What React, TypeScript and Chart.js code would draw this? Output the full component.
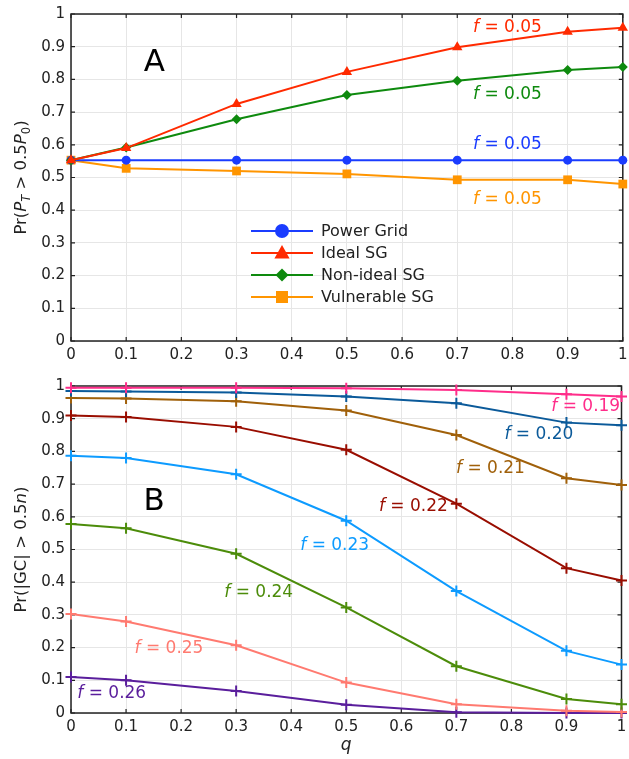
import React, { useEffect, useRef } from "react";
import { Chart, registerables } from "chart.js";

Chart.register(...registerables);

const qValues = [0, 0.1, 0.3, 0.5, 0.7, 0.9, 1];

// Panel A
const powerGrid = [0.553, 0.553, 0.553, 0.553, 0.553, 0.553, 0.553];
const idealSG = [0.553, 0.59, 0.725, 0.823, 0.898, 0.946, 0.958];
const nonIdealSG = [0.553, 0.592, 0.678, 0.752, 0.796, 0.829, 0.838];
const vulnerableSG = [0.553, 0.528, 0.52, 0.511, 0.493, 0.493, 0.48];

// Panel B
const f019 = [0.995, 0.995, 0.995, 0.993, 0.988, 0.975, 0.968];
const f020 = [0.985, 0.983, 0.98, 0.968, 0.947, 0.888, 0.88];
const f021 = [0.963, 0.962, 0.953, 0.925, 0.85, 0.718, 0.697];
const f022 = [0.91, 0.905, 0.875, 0.805, 0.64, 0.443, 0.405];
const f023 = [0.787, 0.78, 0.73, 0.588, 0.373, 0.19, 0.148];
const f024 = [0.578, 0.565, 0.487, 0.323, 0.143, 0.043, 0.027];
const f025 = [0.303, 0.28, 0.207, 0.093, 0.027, 0.007, 0.003];
const f026 = [0.11, 0.1, 0.067, 0.025, 0.002, 0.0, 0.0];

const seriesA = [
  { label: "Power Grid", data: powerGrid, color: "#1a3cff", style: "circle", r: 4.5, lr: 7, order: 2 },
  { label: "Ideal SG", data: idealSG, color: "#ff2a00", style: "triangle", r: 6, lr: 8, order: 0 },
  { label: "Non-ideal SG", data: nonIdealSG, color: "#0e8a0e", style: "rectRot", r: 5, lr: 6.5, order: 1 },
  { label: "Vulnerable SG", data: vulnerableSG, color: "#ff9500", style: "rect", r: 6.2, lr: 8, order: 3 },
];

const seriesB = [
  { f: "0.19", data: f019, color: "#ff2d8a", lx: 0.935, ly: 0.936 },
  { f: "0.20", data: f020, color: "#0b5a9a", lx: 0.85, ly: 0.85 },
  { f: "0.21", data: f021, color: "#a0600a", lx: 0.762, ly: 0.746 },
  { f: "0.22", data: f022, color: "#990d00", lx: 0.622, ly: 0.63 },
  { f: "0.23", data: f023, color: "#0d9bff", lx: 0.479, ly: 0.511 },
  { f: "0.24", data: f024, color: "#4c8c0a", lx: 0.341, ly: 0.367 },
  { f: "0.25", data: f025, color: "#ff7a70", lx: 0.178, ly: 0.196 },
  { f: "0.26", data: f026, color: "#5a1e9c", lx: 0.074, ly: 0.058 },
];

const labelsA = [
  { text: "0.05", color: "#ff2a00", x: 0.791, y: 0.957 },
  { text: "0.05", color: "#0e8a0e", x: 0.791, y: 0.755 },
  { text: "0.05", color: "#1a3cff", x: 0.791, y: 0.602 },
  { text: "0.05", color: "#ff9500", x: 0.791, y: 0.434 },
];

const FONT = "'DejaVu Sans', sans-serif";

type Seg = { t: string; i?: boolean; sub?: boolean };

function drawRich(ctx: CanvasRenderingContext2D, segs: Seg[], x: number, y: number, size: number, color: string, rotate = 0) {
  ctx.save();
  ctx.translate(x, y);
  if (rotate) ctx.rotate(rotate);
  ctx.fillStyle = color;
  ctx.textBaseline = "middle";
  ctx.textAlign = "left";
  const fontOf = (s: Seg) => `${s.i ? "italic " : ""}${s.sub ? size * 0.7 : size}px ${FONT}`;
  let total = 0;
  const widths = segs.map((s) => {
    ctx.font = fontOf(s);
    const w = ctx.measureText(s.t).width;
    total += w;
    return w;
  });
  let cx = -total / 2;
  segs.forEach((s, k) => {
    ctx.font = fontOf(s);
    ctx.fillText(s.t, cx, s.sub ? size * 0.3 : 0);
    cx += widths[k];
  });
  ctx.restore();
}

function drawMarker(ctx: CanvasRenderingContext2D, style: string, x: number, y: number, r: number, color: string) {
  ctx.save();
  ctx.fillStyle = color;
  ctx.beginPath();
  if (style === "circle") {
    ctx.arc(x, y, r, 0, Math.PI * 2);
  } else if (style === "triangle") {
    ctx.moveTo(x, y - r);
    ctx.lineTo(x + r * 0.95, y + r * 0.7);
    ctx.lineTo(x - r * 0.95, y + r * 0.7);
    ctx.closePath();
  } else if (style === "rectRot") {
    ctx.moveTo(x, y - r);
    ctx.lineTo(x + r, y);
    ctx.lineTo(x, y + r);
    ctx.lineTo(x - r, y);
    ctx.closePath();
  } else {
    ctx.rect(x - r * 0.75, y - r * 0.75, r * 1.5, r * 1.5);
  }
  ctx.fill();
  ctx.restore();
}

const framePlugin = {
  id: "frame",
  beforeDatasetsDraw(chart: any) {
    const { ctx, chartArea: a, scales } = chart;
    ctx.save();
    ctx.strokeStyle = "#222";
    ctx.lineWidth = 1.5;
    ctx.strokeRect(a.left, a.top, a.right - a.left, a.bottom - a.top);
    ctx.lineWidth = 1.2;
    const tl = 4;
    ctx.beginPath();
    for (let k = 0; k <= 10; k++) {
      const v = k / 10;
      const px = scales.x.getPixelForValue(v);
      ctx.moveTo(px, a.top);
      ctx.lineTo(px, a.top + tl);
      ctx.moveTo(px, a.bottom);
      ctx.lineTo(px, a.bottom - tl);
      const py = scales.y.getPixelForValue(v);
      ctx.moveTo(a.left, py);
      ctx.lineTo(a.left + tl, py);
      ctx.moveTo(a.right, py);
      ctx.lineTo(a.right - tl, py);
    }
    ctx.stroke();
    ctx.restore();
  },
};

function fixAxisX(scale: any, h: number) {
  scale.height = h;
  scale.paddingLeft = 0;
  scale.paddingRight = 0;
  scale.paddingTop = 0;
  scale.paddingBottom = 0;
}
function fixAxisY(scale: any, w: number) {
  scale.width = w;
  scale.paddingLeft = 0;
  scale.paddingRight = 0;
  scale.paddingTop = 0;
  scale.paddingBottom = 0;
}

function baseScales(xHeight: number) {
  const tickFmt = (v: any) => {
    const n = Math.round(Number(v) * 10) / 10;
    return n.toString();
  };
  return {
    x: {
      type: "linear",
      min: 0,
      max: 1,
      ticks: { stepSize: 0.1, callback: tickFmt, font: { family: FONT, size: 15 }, color: "#222", padding: 5, maxRotation: 0, autoSkip: false },
      grid: { color: "#e6e6e6", lineWidth: 1, drawTicks: false },
      border: { display: false },
      afterFit: (s: any) => fixAxisX(s, xHeight),
    },
    y: {
      type: "linear",
      min: 0,
      max: 1,
      ticks: { stepSize: 0.1, callback: tickFmt, font: { family: FONT, size: 15 }, color: "#222", padding: 6, autoSkip: false },
      grid: { color: "#e6e6e6", lineWidth: 1, drawTicks: false },
      border: { display: false },
      afterFit: (s: any) => fixAxisY(s, 71),
    },
  };
}

const W = 629;
const H1 = 372;
const H2 = 387;

export default function App() {
  const c1 = useRef<HTMLCanvasElement>(null);
  const c2 = useRef<HTMLCanvasElement>(null);

  useEffect(() => {
    const annotA = {
      id: "annotA",
      afterDatasetsDraw(chart: any) {
        const { ctx, scales } = chart;
        labelsA.forEach((l) => {
          drawRich(ctx, [{ t: "f", i: true }, { t: " = " + l.text }], scales.x.getPixelForValue(l.x), scales.y.getPixelForValue(l.y), 17, l.color);
        });
        ctx.save();
        ctx.font = `31px ${FONT}`;
        ctx.fillStyle = "#000";
        ctx.textAlign = "center";
        ctx.textBaseline = "middle";
        ctx.fillText("A", scales.x.getPixelForValue(0.151), scales.y.getPixelForValue(0.85));
        ctx.restore();
        // y title
        drawRich(ctx, [{ t: "Pr(" }, { t: "P", i: true }, { t: "T", i: true, sub: true }, { t: " > 0.5" }, { t: "P", i: true }, { t: "0", sub: true }, { t: ")" }], 22, (chart.chartArea.top + chart.chartArea.bottom) / 2, 16.5, "#222", -Math.PI / 2);
        // legend
        const rows = [231, 253, 275, 297];
        seriesA.forEach((s, k) => {
          const y = rows[k];
          ctx.save();
          ctx.strokeStyle = s.color;
          ctx.lineWidth = 2;
          ctx.beginPath();
          ctx.moveTo(251, y);
          ctx.lineTo(313, y);
          ctx.stroke();
          ctx.restore();
          drawMarker(ctx, s.style, 282, y, s.lr, s.color);
          ctx.save();
          ctx.font = `16px ${FONT}`;
          ctx.fillStyle = "#222";
          ctx.textBaseline = "middle";
          ctx.fillText(s.label, 321, y + 1);
          ctx.restore();
        });
      },
    };

    const chart1 = new Chart(c1.current!, {
      type: "line",
      data: {
        datasets: seriesA.map((s) => ({
          label: s.label,
          data: qValues.map((q, k) => ({ x: q, y: s.data[k] })),
          borderColor: s.color,
          backgroundColor: s.color,
          pointBackgroundColor: s.color,
          pointBorderColor: s.color,
          pointBorderWidth: 0,
          pointStyle: s.style,
          pointRadius: s.r,
          borderWidth: 2,
          tension: 0,
          clip: false,
          order: s.order,
        })),
      } as any,
      options: {
        responsive: false,
        animation: false,
        devicePixelRatio: 1,
        layout: { padding: { top: 14, right: 3, left: 0, bottom: 0 } },
        plugins: { legend: { display: false }, tooltip: { enabled: false } },
        scales: baseScales(H1 - 341) as any,
      },
      plugins: [framePlugin, annotA],
    });

    const annotB = {
      id: "annotB",
      afterDatasetsDraw(chart: any) {
        const { ctx, scales, chartArea } = chart;
        seriesB.forEach((s) => {
          drawRich(ctx, [{ t: "f", i: true }, { t: " = " + s.f }], scales.x.getPixelForValue(s.lx), scales.y.getPixelForValue(s.ly), 17, s.color);
        });
        ctx.save();
        ctx.font = `31px ${FONT}`;
        ctx.fillStyle = "#000";
        ctx.textAlign = "center";
        ctx.textBaseline = "middle";
        ctx.fillText("B", scales.x.getPixelForValue(0.151), scales.y.getPixelForValue(0.645));
        ctx.restore();
        drawRich(ctx, [{ t: "Pr(|GC| > 0.5" }, { t: "n", i: true }, { t: ")" }], 22, (chartArea.top + chartArea.bottom) / 2, 16.5, "#222", -Math.PI / 2);
        drawRich(ctx, [{ t: "q", i: true }], (chartArea.left + chartArea.right) / 2, 374, 17, "#222");
      },
    };

    const chart2 = new Chart(c2.current!, {
      type: "line",
      data: {
        datasets: seriesB.map((s) => ({
          label: "f = " + s.f,
          data: qValues.map((q, k) => ({ x: q, y: s.data[k] })),
          borderColor: s.color,
          backgroundColor: s.color,
          pointBorderColor: s.color,
          pointStyle: "cross",
          pointRadius: 5.5,
          pointBorderWidth: 2,
          borderWidth: 2,
          tension: 0,
          clip: false,
        })),
      } as any,
      options: {
        responsive: false,
        animation: false,
        devicePixelRatio: 1,
        layout: { padding: { top: 14, right: 3, left: 0, bottom: 0 } },
        plugins: { legend: { display: false }, tooltip: { enabled: false } },
        scales: baseScales(H2 - 341) as any,
      },
      plugins: [framePlugin, annotB],
    });

    return () => {
      chart1.destroy();
      chart2.destroy();
    };
  }, []);

  return (
    <div style={{ position: "absolute", left: 0, top: 0, width: W, height: H1 + H2, background: "#fff" }}>
      <canvas ref={c1} width={W} height={H1} style={{ display: "block", width: W, height: H1 }} />
      <canvas ref={c2} width={W} height={H2} style={{ display: "block", width: W, height: H2 }} />
    </div>
  );
}
